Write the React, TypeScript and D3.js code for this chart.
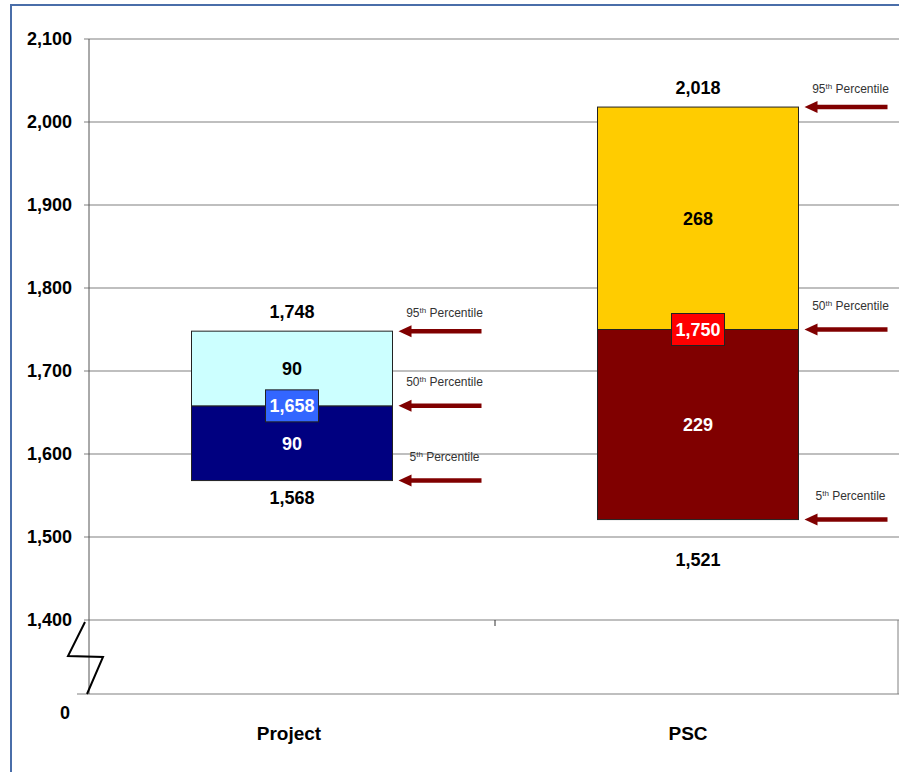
import { useEffect } from 'react';
import * as d3 from 'd3';

// Cost ranges per option (5th / 50th / 95th percentile)
const categories = ['Project', 'PSC'];
const p5 = [1568, 1521];
const p50 = [1658, 1750];
const p95 = [1748, 2018];
const lowerSpread = [90, 229];
const upperSpread = [90, 268];
const yTicks = [1400, 1500, 1600, 1700, 1800, 1900, 2000, 2100];
const percentileNames = ['5', '50', '95'];

const lowerFill = ['#000080', '#800000'];
const upperFill = ['#ccffff', '#ffcc00'];
const midBoxFill = ['#3366ff', '#ff0000'];

const W = 899;
const H = 772;
const FONT = 'Arial, "Liberation Sans", sans-serif';

export default function App() {
  useEffect(() => {
    document.body.style.margin = '0';
  }, []);

  const axisX = 89;
  const zeroY = 694;
  const y = d3.scaleLinear().domain([1400, 2100]).range([620, 39]);
  const x = d3.scaleBand<string>().domain(categories).range([axisX, 901]);
  const barW = 201;
  const fmt = d3.format(',');
  const arrowColor = '#800000';
  // layout nudges for the labels below bars / category names
  const lowGap = [17, 40];
  const catNudge = [-3, -10];

  const arrow = (tipX: number, yy: number) => {
    const len = 83;
    const head = 13;
    return (
      <>
        <line x1={tipX + head - 1} x2={tipX + len} y1={yy} y2={yy} stroke={arrowColor} strokeWidth={4.5} />
        <path d={`M${tipX},${yy} L${tipX + head},${yy - 6} L${tipX + head},${yy + 6} Z`} fill={arrowColor} />
      </>
    );
  };

  return (
    <svg width={W} height={H} style={{ display: 'block', background: '#fff' }}>
      {/* outer frame */}
      <rect x={11} y={5} width={W + 20} height={H + 20} fill="none" stroke="#4a6ea9" strokeWidth={2} />

      {/* gridlines */}
      {yTicks.map((t) => (
        <line key={t} x1={84} x2={W} y1={y(t)} y2={y(t)} stroke="#808080" strokeWidth={1.2} />
      ))}
      <line x1={77} x2={W} y1={zeroY} y2={zeroY} stroke="#808080" strokeWidth={1.2} />
      <line x1={W - 1} x2={W - 1} y1={y(1400)} y2={zeroY} stroke="#808080" strokeWidth={1} />
      <line x1={axisX} x2={axisX} y1={y(2100)} y2={zeroY} stroke="#555" strokeWidth={1} />
      <line x1={x('PSC')!} x2={x('PSC')!} y1={y(1400)} y2={y(1400) + 6} stroke="#333" strokeWidth={1} />

      {/* axis break */}
      <polyline points="85,622 68,656 103,657 87,694" fill="none" stroke="#000" strokeWidth={2} />

      {/* y labels */}
      {yTicks.map((t) => (
        <text key={`yl${t}`} x={72} y={y(t)} dy="0.35em" textAnchor="end" fontFamily={FONT} fontWeight="bold" fontSize={18}>
          {fmt(t)}
        </text>
      ))}
      <text x={70} y={713} dy="0.35em" textAnchor="end" fontFamily={FONT} fontWeight="bold" fontSize={18}>
        0
      </text>

      {/* bars */}
      {categories.map((c, i) => {
        const cx = x(c)! + x.bandwidth() / 2;
        const x0 = cx - barW / 2;
        return (
          <g key={c}>
            <rect x={x0} y={y(p50[i])} width={barW} height={y(p5[i]) - y(p50[i])} fill={lowerFill[i]} stroke="#222" strokeWidth={1} />
            <rect x={x0} y={y(p95[i])} width={barW} height={y(p50[i]) - y(p95[i])} fill={upperFill[i]} stroke="#222" strokeWidth={1} />
            <text x={cx} y={(y(p95[i]) + y(p50[i])) / 2} dy="0.35em" textAnchor="middle" fontFamily={FONT} fontWeight="bold" fontSize={18} fill="#000">
              {upperSpread[i]}
            </text>
            <text x={cx} y={(y(p50[i]) + y(p5[i])) / 2} dy="0.35em" textAnchor="middle" fontFamily={FONT} fontWeight="bold" fontSize={18} fill="#fff">
              {lowerSpread[i]}
            </text>
            <rect x={cx - 26.5} y={y(p50[i]) - 16} width={53} height={32} fill={midBoxFill[i]} stroke="#222" strokeWidth={1} />
            <text x={cx} y={y(p50[i])} dy="0.35em" textAnchor="middle" fontFamily={FONT} fontWeight="bold" fontSize={18} fill="#fff">
              {fmt(p50[i])}
            </text>
            <text x={cx} y={y(p95[i]) - 19} dy="0.35em" textAnchor="middle" fontFamily={FONT} fontWeight="bold" fontSize={18}>
              {fmt(p95[i])}
            </text>
            <text x={cx} y={y(p5[i]) + lowGap[i]} dy="0.35em" textAnchor="middle" fontFamily={FONT} fontWeight="bold" fontSize={18}>
              {fmt(p5[i])}
            </text>

            {/* percentile arrows */}
            {[p5[i], p50[i], p95[i]].map((v, k) => {
              const tipX = x0 + barW + 6;
              const yy = y(v);
              return (
                <g key={k}>
                  {arrow(tipX, yy)}
                  <text x={tipX + 46} y={yy - (k === 2 ? 18 : 24)} dy="0.35em" textAnchor="middle" fontFamily={FONT} fontSize={12} fill="#333">
                    {percentileNames[k]}
                    <tspan fontSize={8} dy={-4}>th</tspan>
                    <tspan dy={4}> Percentile</tspan>
                  </text>
                </g>
              );
            })}

            <text x={cx + catNudge[i]} y={733} dy="0.35em" textAnchor="middle" fontFamily={FONT} fontWeight="bold" fontSize={19}>
              {c}
            </text>
          </g>
        );
      })}
    </svg>
  );
}
